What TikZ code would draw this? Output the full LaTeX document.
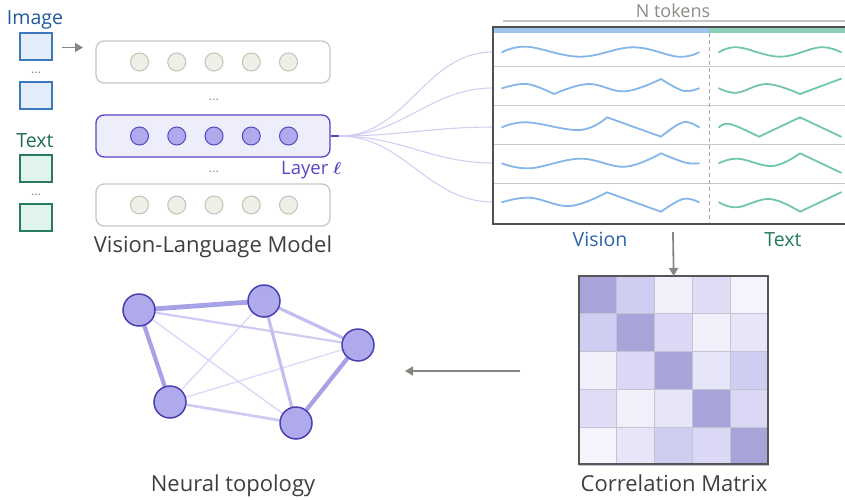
\documentclass[tikz,border=0pt]{standalone}
\usepackage{bm}
\usepackage{fontspec}
\setmainfont{Open Sans}
\usetikzlibrary{arrows.meta,backgrounds}
\definecolor{imgborder}{HTML}{3B78C0}
\definecolor{imgfill}{HTML}{E4EEFA}
\definecolor{txtborder}{HTML}{2A7A5C}
\definecolor{txtfill}{HTML}{E0F3EC}
\definecolor{imagelabel}{HTML}{1F5A9A}
\definecolor{textlabel}{HTML}{1E6B52}
\definecolor{graybd}{HTML}{C9C8C0}
\definecolor{neubd}{HTML}{C3C2B8}
\definecolor{neufill}{HTML}{EFEFE7}
\definecolor{purp}{HTML}{5548C0}
\definecolor{lavfill}{HTML}{EEEDFB}
\definecolor{neupurp}{HTML}{AEAAEC}
\definecolor{topobd}{HTML}{4C40B0}
\definecolor{fancol}{HTML}{D2CEF2}
\definecolor{labelgray}{HTML}{3F3F3F}
\definecolor{ntokgray}{HTML}{8C8C86}
\definecolor{ntokline}{HTML}{C4C4C0}
\definecolor{panelbd}{HTML}{505050}
\definecolor{rowline}{HTML}{C8C8C8}
\definecolor{dashcol}{HTML}{A8A8A8}
\definecolor{barblue}{HTML}{9EC4EE}
\definecolor{bargreen}{HTML}{8DD0B7}
\definecolor{waveblue}{HTML}{84B6EA}
\definecolor{wavegreen}{HTML}{70C6A6}
\definecolor{visionlabel}{HTML}{2A62A8}
\definecolor{textlabeltwo}{HTML}{1F7A5A}
\definecolor{arrowgray}{HTML}{878780}
\definecolor{matbd}{HTML}{555555}
\definecolor{cellbd}{HTML}{C5C3D3}
\definecolor{ma}{HTML}{A8A4D9}
\definecolor{mb}{HTML}{CFCDF2}
\definecolor{mc}{HTML}{DAD8F5}
\definecolor{md}{HTML}{DFDDF5}
\definecolor{me}{HTML}{E7E5F8}
\definecolor{mf}{HTML}{F0EFFA}
\definecolor{mg}{HTML}{F4F4FC}
\definecolor{ethick}{HTML}{A7A2E5}
\definecolor{emed}{HTML}{C2BEF0}
\definecolor{ethin}{HTML}{CFCCF3}
\definecolor{evthin}{HTML}{DDDBF7}
\begin{document}
\begin{tikzpicture}[x=1pt,y=-1pt,
  imgbox/.style={draw=imgborder,fill=imgfill,line width=1.3pt,minimum width=32pt,minimum height=27pt,inner sep=0pt},
  txtbox/.style={draw=txtborder,fill=txtfill,line width=1.3pt,minimum width=32pt,minimum height=27pt,inner sep=0pt},
  layerbox/.style={draw=graybd,fill=white,rounded corners=8pt,line width=1.3pt,minimum width=234pt,minimum height=42pt,inner sep=0pt},
  actlayer/.style={layerbox,draw=purp,fill=lavfill},
  neu/.style={circle,draw=neubd,fill=neufill,line width=1pt,minimum size=18pt,inner sep=0pt},
  actneu/.style={neu,draw=purp,fill=neupurp},
  topo/.style={circle,draw=topobd,fill=neupurp,line width=1.5pt,minimum size=32pt,inner sep=0pt},
  garrow/.style={draw=arrowgray,line width=1.8pt,-{Triangle[length=8pt,width=9pt]}},
  fan/.style={draw=fancol,line width=1.1pt},
  bwave/.style={draw=waveblue,line width=1.8pt,line cap=round,line join=round},
  gwave/.style={draw=wavegreen,line width=1.8pt,line cap=round,line join=round},
  biglabel/.style={font=\fontsize{22}{26}\selectfont,text=labelgray,anchor=base,inner sep=0pt},
  smalllabel/.style={font=\fontsize{19.5}{23}\selectfont,anchor=base,inner sep=0pt},
  dots/.style={font=\fontsize{13}{13}\selectfont,text=ntokgray,anchor=base,inner sep=0pt},
  sm/.style={smooth,tension=0.65}
]
\useasboundingbox (0,0) rectangle (845,499);

% ---------- input tokens ----------
\node[smalllabel,text=imagelabel] (imglab) at (35,24) {Image};
\node[imgbox] (img1) at (36,46.5) {};
\node[dots] (imgdots) at (36,73) {...};
\node[imgbox] (img2) at (36,95.5) {};
\node[smalllabel,text=textlabel] (txtlab) at (35,147) {Text};
\node[txtbox] (txt1) at (36,168.5) {};
\node[dots] (txtdots) at (36,195) {...};
\node[txtbox] (txt2) at (36,217.5) {};
\coordinate (inA) at (62,47.5);
\coordinate (inB) at (83,47.5);
\draw[garrow,line width=1.7pt,-{Triangle[length=8pt,width=9pt]}] (inA) -- (inB);

% ---------- VLM layers ----------
\node[layerbox] (L1) at (213,62) {};
\node[actlayer] (L2) at (213,136) {};
\node[layerbox] (L3) at (213,205) {};
\foreach \i in {0,...,4}{
  \node[neu] (a\i) at ({139.5+37.25*\i},62) {};
  \node[actneu] (b\i) at ({139.5+37.25*\i},136) {};
  \node[neu] (c\i) at ({139.5+37.25*\i},205) {};
}
\node[dots] (ldots1) at (214,100) {...};
\node[dots] (ldots2) at (214,172) {...};
\node[font=\fontsize{18.5}{22}\selectfont,inner sep=0pt,text=purp,anchor=base west] (laylab) at (281,174) {Layer $\bm{\ell}$};
\node[biglabel] (vlmlab) at (213,252) {Vision-Language Model};

% ---------- fan ----------
\coordinate (fanS) at (339,136);
\draw[draw=purp,line width=1.3pt] (L2.east) -- (fanS);
\foreach \y [count=\k] in {52,88,127,163,202}{
  \coordinate (r\k) at (493,\y);
  \draw[fan] (fanS) to[out=0,in=180] (r\k);
}

% ---------- token panel ----------
\node[font=\fontsize{18}{21}\selectfont,text=ntokgray,anchor=base,inner sep=0pt] (ntok) at (673,17) {N tokens};
\coordinate (ntA) at (503,21);
\coordinate (ntB) at (845,21);
\draw[ntokline,line width=1.3pt] (ntA) -- (ntB);
\begin{scope}
\clip (0,0) rectangle (845,499);
\node[draw=none,minimum width=359pt,minimum height=197pt,inner sep=0pt,anchor=north west] (panel) at (493,27) {};
\fill[barblue] (493,27) rectangle (709,33);
\fill[bargreen] (709,27) rectangle (852,33);
\foreach \y in {66,105,144,183}{ \draw[rowline,line width=1pt] (493,\y) -- (852,\y); }
\draw[dashcol,line width=0.9pt,dash pattern=on 4pt off 3pt] (709,33) -- (709,224);
% waves row 1
\draw[bwave] plot[sm] coordinates {(502,52.3) (527,46.7) (580,56.7) (633,47.3) (678,56.7) (699,52.3)};
\draw[gwave] plot[sm] coordinates {(719,52.3) (738,47.3) (780,56.7) (820,47.3) (841,52.3)};
% row 2
\draw[bwave] plot[sm] coordinates {(502,88.3) (527,84) (554,94)}
  plot[sm] coordinates {(554,94) (588,84) (625,91.3) (661,79)}
  plot[sm] coordinates {(661,79) (683,90.7) (699,88.3)};
\draw[gwave] plot[sm] coordinates {(719,88.3) (737,92.7) (767,84) (800,94)} -- (841,78.7);
% row 3
\draw[bwave] plot[sm] coordinates {(502,127.3) (527,122.3) (580,130) (607,117.3)} -- (661,136.7)
  plot[sm] coordinates {(661,136.7) (683,122.3) (699,127.3)};
\draw[gwave] plot[sm] coordinates {(719,127.3) (730,124) (759,136.7)} -- (800,117.3) -- (841,136.7);
% row 4
\draw[bwave] plot[sm] coordinates {(502,163.3) (530,168.3) (580,158.7) (625,166.7) (661,153.3)}
  plot[sm] coordinates {(661,153.3) (685,162.5) (699,163.3)};
\draw[gwave] plot[sm] coordinates {(719,163.3) (738,158.7) (773,166) (800,153.3)} -- (841,172.7);
% row 5
\draw[bwave] plot[sm] coordinates {(502,202.3) (530,197.7) (570,206) (607,192.3)} -- (661,211.7)
  plot[sm] coordinates {(661,211.7) (683,199) (699,202.3)};
\draw[gwave] plot[sm] coordinates {(719,202.3) (737,207.3) (770,199) (800,211.7)} -- (841,192.3);
\draw[panelbd,line width=1.6pt] (852,27) -- (493,27) -- (493,224) -- (852,224);
\end{scope}
\node[smalllabel,text=visionlabel] (vislab) at (600,246) {Vision};
\node[smalllabel,text=textlabeltwo] (txtlab2) at (783,246) {Text};

% ---------- correlation matrix ----------
\node[draw=none,minimum size=189pt,inner sep=0pt,anchor=north west] (corr) at (579,276) {};
\foreach \row [count=\r from 0] in {{ma,mb,mf,md,mg},{mb,ma,mc,mf,me},{mf,mc,ma,me,mb},{md,mf,me,ma,mc},{mg,me,mb,mc,ma}}{
  \foreach \col [count=\c from 0] in \row {
    \filldraw[fill=\col,draw=cellbd,line width=0.9pt] ({579+37.8*\c},{276+37.8*\r}) rectangle ++(37.8,37.8);
  }
}
\draw[matbd,line width=1.6pt] (579,276) rectangle (768,464);
\node[biglabel] (corrlab) at (674,491) {Correlation Matrix};
\coordinate (dA) at (673,232);
\draw[garrow] (dA) -- (corr.north);

% ---------- neural topology ----------
\node[topo] (A) at (139,310) {};
\node[topo] (B) at (264,301) {};
\node[topo] (C) at (358,345) {};
\node[topo] (D) at (170,402) {};
\node[topo] (E) at (296,423) {};
\begin{scope}[on background layer]
\draw[evthin,line width=1.4pt] (D.center) -- (C.center);
\draw[evthin,line width=1.5pt] (B.center) -- (D.center);
\draw[evthin,line width=1.6pt] (A.center) -- (E.center);
\draw[ethin,line width=2.2pt] (A.center) -- (C.center);
\draw[ethin,line width=2.7pt] (D.center) -- (E.center);
\draw[emed,line width=3.2pt] (B.center) -- (E.center);
\draw[emed,line width=3.2pt] (B.center) -- (C.center);
\draw[ethick,line width=4.2pt] (C.center) -- (E.center);
\draw[ethick,line width=4.2pt] (A.center) -- (D.center);
\draw[ethick,line width=4.8pt] (A.center) -- (B.center);
\end{scope}
\node[biglabel] (toplab) at (233,491) {Neural topology};
\coordinate (lA) at (520,371);
\coordinate (lB) at (405,371);
\draw[garrow] (lA) -- (lB);
\end{tikzpicture}
\end{document}
